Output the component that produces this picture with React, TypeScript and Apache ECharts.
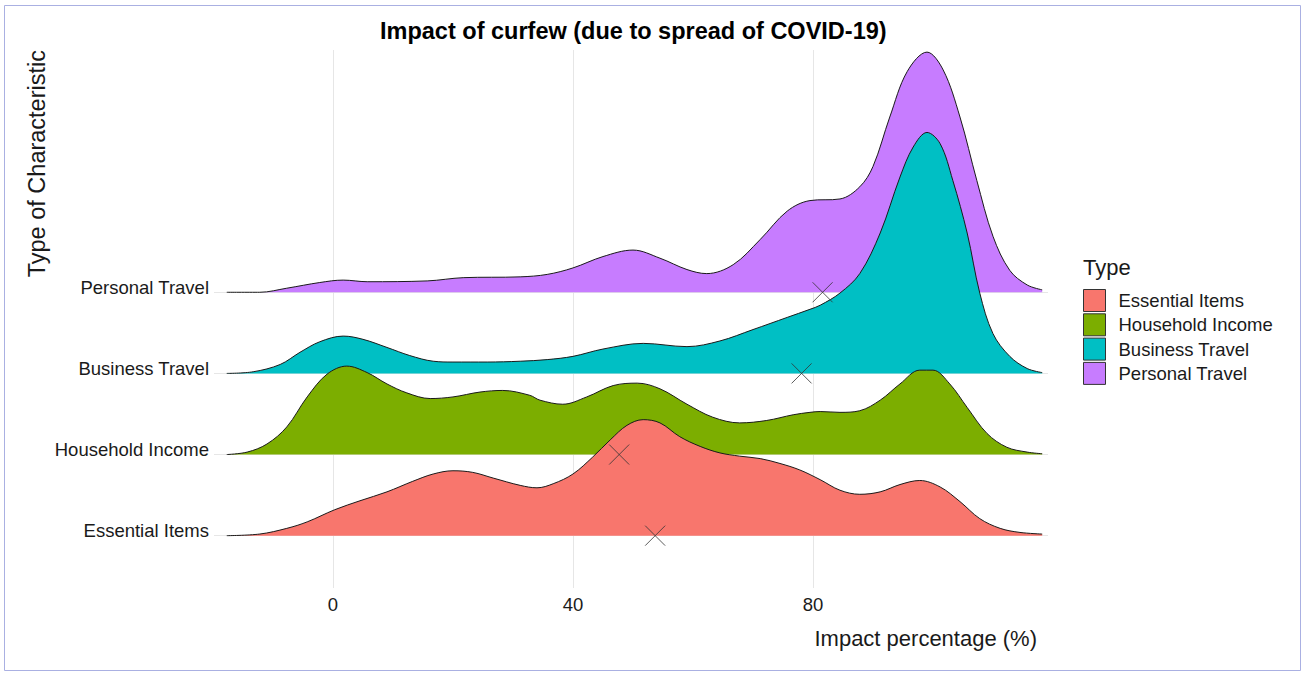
import React, { useEffect, useRef } from "react";
import * as echarts from "echarts";

const FONT = "'Liberation Sans', Arial, sans-serif";

const CATEGORIES = ["Essential Items", "Household Income", "Business Travel", "Personal Travel"];
const COLORS = ["#F8766D", "#7CAE00", "#00BFC4", "#C77CFF"];
const X_TICKS = [0, 40, 80];
const Y_TICKS = [0, 1, 2, 3];

// Ridge heights (in units of the spacing between ridges)
const ESSENTIAL_X = [-17.7, -12.2, -7.7, -4.3, 0.3, 4.5, 9, 13.3, 16.7, 20, 23.3, 26.7, 31.2, 34, 36.7, 40, 43.3, 46.2, 49, 51.7, 54.5, 57.8, 61.2, 64.5, 67.8, 71.2, 74.5, 77.8, 81.2, 84.5, 87.8, 91.2, 94.5, 97.8, 101.2, 104.5, 107.8, 111.2, 114.5, 118.2];
const ESSENTIAL_H = [0, 0.02, 0.09, 0.17, 0.32, 0.43, 0.54, 0.67, 0.76, 0.8, 0.78, 0.71, 0.62, 0.59, 0.64, 0.76, 0.97, 1.18, 1.36, 1.43, 1.39, 1.22, 1.1, 1.02, 0.98, 0.95, 0.89, 0.81, 0.69, 0.56, 0.51, 0.54, 0.63, 0.68, 0.6, 0.42, 0.21, 0.09, 0.04, 0.02];

const HOUSEHOLD_X = [-17.7, -14.3, -11, -7.7, -4.3, -1, 2.3, 5.7, 9, 12.3, 16.2, 20, 24.5, 28.3, 32.8, 34.5, 38.3, 42.3, 46.7, 50.7, 54.5, 59, 63.3, 67.8, 72.3, 76.7, 79.5, 81.2, 84.5, 87.8, 91.2, 94.5, 97.8, 100, 102.8, 105.7, 109, 112.3, 115.7, 118.2];
const HOUSEHOLD_H = [0, 0.03, 0.13, 0.34, 0.71, 0.99, 1.09, 1.01, 0.87, 0.76, 0.69, 0.71, 0.77, 0.79, 0.73, 0.67, 0.62, 0.71, 0.85, 0.88, 0.81, 0.62, 0.46, 0.39, 0.42, 0.49, 0.52, 0.53, 0.52, 0.54, 0.67, 0.87, 1.04, 1.04, 0.87, 0.58, 0.26, 0.09, 0.03, 0.01];

const BUSINESS_X = [-17.7, -13.3, -8.8, -5.5, -2.2, 1.7, 5, 9, 12.8, 16.7, 20, 25.7, 31.2, 35.7, 40, 45, 51.7, 59, 64.5, 70, 75.7, 79.5, 81.2, 84.5, 87.8, 91.2, 94.5, 96.7, 99, 101.2, 103.3, 105.7, 107.8, 110, 112.8, 115.7, 118.2];
const BUSINESS_H = [0, 0.02, 0.11, 0.26, 0.39, 0.46, 0.42, 0.32, 0.22, 0.15, 0.14, 0.14, 0.15, 0.17, 0.21, 0.3, 0.37, 0.33, 0.4, 0.54, 0.69, 0.79, 0.84, 0.99, 1.23, 1.73, 2.42, 2.79, 2.97, 2.83, 2.38, 1.73, 0.99, 0.49, 0.21, 0.06, 0.01];

const PERSONAL_X = [-17.7, -12.2, -7.7, -2.2, 1.7, 5.7, 15.7, 21.7, 31.2, 35.7, 40, 45, 50, 54.5, 59, 62.3, 66.7, 71.2, 75.7, 79.5, 84.5, 87.8, 90, 92.8, 95.7, 99, 101.7, 104.5, 107.3, 110, 112.8, 115.7, 118.2];
const PERSONAL_H = [0, 0, 0.05, 0.12, 0.15, 0.13, 0.14, 0.18, 0.19, 0.22, 0.3, 0.44, 0.52, 0.42, 0.28, 0.23, 0.34, 0.65, 1.0, 1.13, 1.15, 1.3, 1.55, 2.16, 2.72, 2.96, 2.74, 2.16, 1.38, 0.69, 0.27, 0.09, 0.03];

// Mean impact per type (the X markers)
const MEANS = [53.7, 47.7, 78.1, 81.6];

const RIDGES = [
  { x: ESSENTIAL_X, h: ESSENTIAL_H },
  { x: HOUSEHOLD_X, h: HOUSEHOLD_H },
  { x: BUSINESS_X, h: BUSINESS_H },
  { x: PERSONAL_X, h: PERSONAL_H },
];

export default function App() {
  const ref = useRef<HTMLDivElement>(null);

  useEffect(() => {
    if (!ref.current) return;
    const chart = echarts.init(ref.current, null, { renderer: "svg" });

    const ridgeSeries: any[] = [3, 2, 1, 0].map((i) => ({
      type: "line",
      name: CATEGORIES[i],
      data: RIDGES[i].x.map((x, k) => [x, i + RIDGES[i].h[k]]),
      smooth: 0.35,
      symbol: "none",
      showSymbol: false,
      silent: true,
      lineStyle: { color: "#1a1a1a", width: 1 },
      itemStyle: { color: COLORS[i] },
      areaStyle: { color: COLORS[i], opacity: 1, origin: i },
      z: 2,
    }));

    const option: any = {
      animation: false,
      backgroundColor: "#ffffff",
      textStyle: { fontFamily: FONT },
      title: {
        text: "Impact of curfew (due to spread of COVID-19)",
        left: 380,
        top: 19,
        padding: 0,
        textStyle: { fontFamily: FONT, fontSize: 23.5, fontWeight: "bold", color: "#000" },
      },
      grid: { left: 214, right: 255, top: 50, bottom: 87, containLabel: false, outerBoundsMode: "none" },
      xAxis: {
        type: "value",
        min: -19.83,
        max: 119.17,
        axisLine: { show: false },
        axisTick: { show: false, customValues: X_TICKS },
        axisLabel: { customValues: X_TICKS, fontSize: 18.5, color: "#1a1a1a", margin: 7, fontFamily: FONT },
        splitLine: { show: true, lineStyle: { color: "#e6e6e6", width: 1 } },
      },
      yAxis: {
        type: "value",
        min: -0.645,
        max: 5.986,
        axisLine: { show: false },
        axisTick: { show: false, customValues: Y_TICKS },
        axisLabel: {
          customValues: Y_TICKS,
          fontSize: 18.5,
          color: "#1a1a1a",
          margin: 5,
          verticalAlign: "bottom",
          lineHeight: 10,
          fontFamily: FONT,
          formatter: (v: number) => CATEGORIES[Math.round(v)] ?? "",
        },
        splitLine: { show: true, lineStyle: { color: "#e6e6e6", width: 1 } },
      },
      legend: {
        left: 1083,
        top: 289,
        orient: "vertical",
        padding: 0,
        itemWidth: 22,
        itemHeight: 22,
        itemGap: 1.3,
        itemTextGap: 14,
        icon: "rect",
        selectedMode: false,
        textStyle: { fontSize: 18.5, color: "#1a1a1a", fontFamily: FONT, padding: [0, 0, 0, 8] },
        data: CATEGORIES.map((n, i) => ({
          name: n,
          icon: "rect",
          itemStyle: { color: COLORS[i], borderColor: "#333333", borderWidth: 1 },
        })),
      },
      graphic: [
        {
          type: "rect",
          silent: true,
          shape: { x: 4.5, y: 5.5, width: 1296, height: 665 },
          style: { fill: "none", stroke: "#aab0e2", lineWidth: 1 },
        },
        {
          type: "text",
          x: 37,
          y: 50,
          rotation: Math.PI / 2,
          silent: true,
          style: {
            text: "Type of Characteristic",
            fontSize: 23.5,
            fontFamily: FONT,
            fill: "#1a1a1a",
            align: "right",
            verticalAlign: "middle",
          },
        },
        {
          type: "text",
          x: 1037,
          y: 638,
          silent: true,
          style: {
            text: "Impact percentage (%)",
            fontSize: 22,
            fontFamily: FONT,
            fill: "#1a1a1a",
            align: "right",
            verticalAlign: "middle",
          },
        },
        {
          type: "text",
          x: 1083,
          y: 267,
          silent: true,
          style: {
            text: "Type",
            fontSize: 22,
            fontFamily: FONT,
            fill: "#1a1a1a",
            align: "left",
            verticalAlign: "middle",
          },
        },
      ],
      series: [
        ...ridgeSeries,
        {
          type: "scatter",
          name: "Mean",
          data: MEANS.map((m, i) => [m, i]),
          symbol: "path://M0,0L20,20M20,0L0,20",
          symbolSize: 20,
          silent: true,
          itemStyle: { color: "rgba(0,0,0,0)", borderColor: "#333333", borderWidth: 1 },
          z: 5,
        },
      ],
    };

    chart.setOption(option);
    return () => chart.dispose();
  }, []);

  return (
    <div
      ref={ref}
      style={{ position: "fixed", left: 0, top: 0, width: 1303, height: 675 }}
    />
  );
}
